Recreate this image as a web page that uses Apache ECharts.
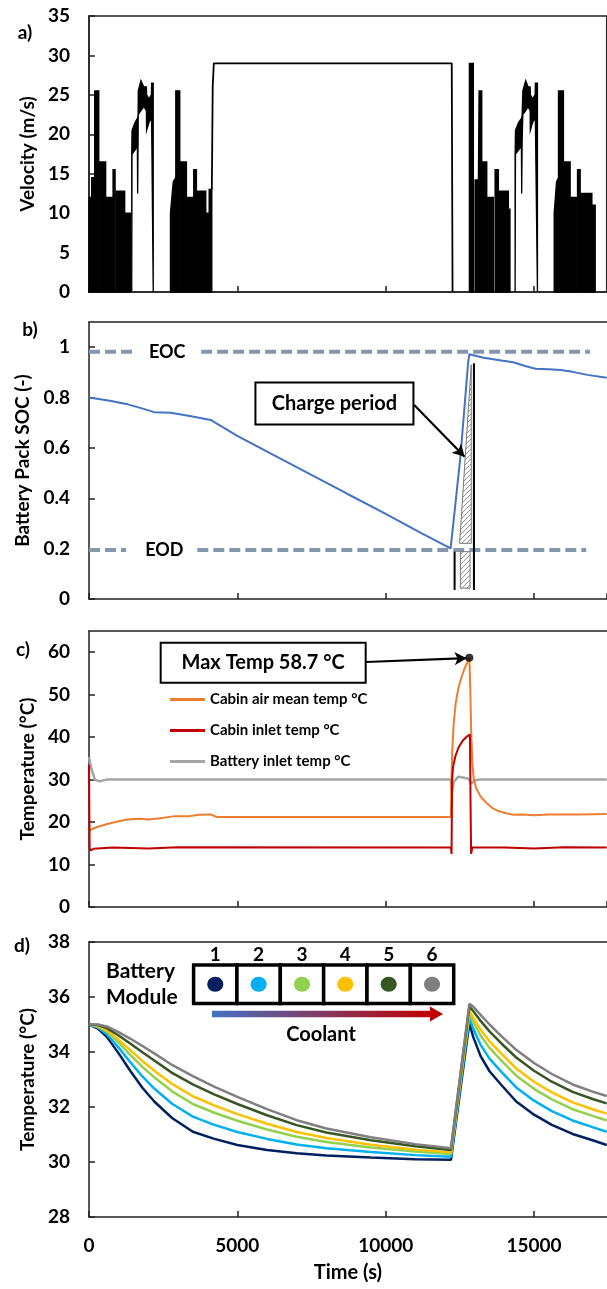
<!DOCTYPE html>
<html>
<head>
<meta charset="utf-8">
<title>Drive cycle, SOC and temperatures</title>
<script src="https://cdn.jsdelivr.net/npm/echarts@6/dist/echarts.min.js"></script>
<style>
html, body { margin: 0; padding: 0; background: #fff; }
#chart { width: 607px; height: 1289px; }
</style>
</head>
<body>
<div id="chart"></div>
<script>
// ---------------- data ----------------
var X_MAX = 17450;

// a) velocity: dense drive-cycle traces given as [t, low, high] envelopes
var velFill = [
  [[0,0,12],[45,0,12]],
  [[90,0,14.5],[191,0,14.5],[191,0,25.5],[330,0,25.5]],
  [[360,0,16.5],[562,0,16.5],[562,0,12],[810,0,12],[810,0,15.5],[880,0,15.5]],
  [[910,0,12.8],[1204,0,12.8],[1204,0,10],[1395,0,10]],
  [[1440,0,17.5],[1450,17.5,20.5],[1550,18,21.5],[1630,18.5,22],[1640,12.5,22],[1655,19,22.5],[1660,22.5,25.5],[1750,23,26.8],[1850,23.5,26],[1935,23,26],[1940,20.5,25],[2020,21.5,24.5],[2104,22,25],[2110,22,26.5],[2165,0,26.5]],
  [[2745,0,10],[2840,0,14],[2925,0,14.5],[2925,0,25.5],[3060,0,25.5]],
  [[3082,0,16.5],[3285,0,16.5],[3285,0,12],[3530,0,12],[3530,0,15.5],[3622,0,15.5],[3622,0,12.8],[3937,0,12.8],[3937,0,10],[4050,0,10],[4050,0,13],[4140,0,13]],
  [[12821,0,29],[12956,0,29]],
  [[13013,0,14.2],[13125,0,14.2],[13148,0,25.5],[13239,0,25.5],[13239,0,16.5],[13408,0,16.5],[13408,0,12],[13631,0,12]],
  [[13688,0,15.5],[13800,0,15.5],[13800,0,12.8],[14137,0,12.8],[14137,0,10.5],[14190,0,10.5]],
  [[14363,0,17.5],[14375,17.5,20.5],[14480,18,21.5],[14575,18.5,22],[14585,12.5,22],[14600,19,22.5],[14623,22.5,25.5],[14720,23,26.8],[14800,23.5,26],[14869,23,26],[14875,20.5,25],[14950,21.5,24.5],[15038,22,25],[15045,22,26.5],[15116,0,26.5]],
  [[15679,0,10],[15760,0,14],[15824,0,14.5],[15824,0,25.5],[15993,0,25.5],[15993,0,16.5],[16218,0,16.5],[16218,0,12],[16444,0,12]],
  [[16466,0,15.5],[16556,0,15.5],[16556,0,12.5],[16951,0,12.5],[16951,0,11],[17063,0,11]]
];
// constant-speed highway leg
var velHighway = [[4140,13],[4170,26],[4207,29],[12227,29],[12254,0]];

// b) battery pack state of charge
var soc = [[0,0.80],[700,0.787],[1300,0.773],[1700,0.760],[2200,0.742],[2750,0.740],[3400,0.727],[4100,0.711],
  [5000,0.648],[6100,0.579],[7400,0.499],[8700,0.418],[10000,0.338],[11200,0.262],[12190,0.201],
  [12520,0.565],[12780,0.94],[12820,0.972],[13300,0.958],[13900,0.947],[14300,0.94],[14700,0.925],
  [15050,0.914],[15500,0.912],[15900,0.909],[16300,0.902],[16800,0.89],[17450,0.879]];
var eocLine = [[0,0.982],[1565,0.982],[2600,null],[3780,0.982],[16890,0.982]];
var eodLine = [[0,0.195],[1250,0.195],[2500,null],[3650,0.195],[16760,0.195]];
var chargeHatch = [
  [[12884,0.93],[12884,0.221],[12492,0.221]],
  [[12518,0.188],[12844,0.188],[12844,0.043],[12518,0.043]]
];
var chargeBracket = [
  [[12323,0.188],[12323,0.036]],
  [[12975,0.936],[12975,0.036]]
];

// c) cabin / battery temperatures
var cabinAir = [[0,17.6],[50,18.2],[300,18.9],[650,19.6],[1000,20.2],[1300,20.6],[1700,20.8],[2000,20.6],[2400,20.9],
  [2900,21.4],[3400,21.4],[3700,21.7],[4100,21.8],[4300,21.2],[12200,21.2],[12215,29],[12240,36],[12290,43],
  [12360,48],[12450,51.5],[12550,54],[12650,56],[12750,57.6],[12820,58.7],[12850,52],[12880,42],[12920,34],
  [12970,30],[13050,28],[13200,26],[13400,24.5],[13600,23.3],[13800,22.6],[14000,22.2],[14300,21.7],
  [14600,21.8],[15000,21.6],[15500,21.8],[16000,21.8],[16500,21.8],[17450,21.9]];
var cabinInlet = [[0,33.5],[20,14],[60,13.3],[150,13.7],[800,14],[2000,13.8],[3000,14.1],[12200,14],[12220,12.5],
  [12240,30],[12270,33],[12350,35.5],[12450,37.5],[12600,39.2],[12750,40.2],[12840,40.6],[12860,25],[12880,12.5],
  [12920,14],[14000,14],[15000,13.8],[16000,14.1],[17450,14]];
var batteryInlet = [[0,35.3],[80,32.5],[200,30],[350,29.6],[600,30],[12190,30],[12230,27.2],[12300,29.5],[12450,30.7],
  [12600,30.5],[12800,30.2],[12880,29],[12920,28.7],[12990,29.8],[13150,30],[17450,30]];
var maxTemp = [12820, 58.7];

// d) battery module temperatures
var modT = [0,300,600,1000,1400,1800,2200,2800,3500,4200,5000,6000,7000,8000,9500,11000,12200,
  12820,12950,13200,13500,13900,14400,15000,15600,16300,17000,17450];
var mod1 = [35.0,34.85,34.55,33.95,33.3,32.7,32.2,31.6,31.1,30.85,30.62,30.44,30.32,30.24,30.16,30.10,30.08,
  35.05,34.55,33.85,33.3,32.8,32.2,31.72,31.35,31.02,30.78,30.62];
var mod2 = [35.0,34.89,34.65,34.16,33.62,33.11,32.67,32.12,31.65,31.36,31.09,30.84,30.64,30.5,30.36,30.25,30.19,
  35.24,34.85,34.26,33.76,33.28,32.71,32.23,31.85,31.51,31.26,31.1];
var mod3 = [35.0,34.93,34.74,34.34,33.89,33.46,33.08,32.57,32.11,31.8,31.5,31.18,30.92,30.73,30.53,30.38,30.29,
  35.4,35.1,34.6,34.15,33.69,33.14,32.66,32.28,31.92,31.67,31.51];
var mod4 = [35.0,34.95,34.79,34.44,34.06,33.67,33.32,32.84,32.39,32.07,31.74,31.39,31.09,30.87,30.63,30.45,30.35,
  35.5,35.25,34.81,34.39,33.94,33.4,32.92,32.53,32.17,31.91,31.76];
var mod5 = [35.0,34.98,34.87,34.6,34.3,33.99,33.69,33.24,32.82,32.47,32.11,31.7,31.34,31.07,30.79,30.57,30.44,
  35.65,35.49,35.13,34.75,34.31,33.8,33.32,32.92,32.55,32.28,32.13];
var mod6 = [35.0,35.0,34.93,34.72,34.48,34.22,33.95,33.53,33.12,32.75,32.37,31.92,31.52,31.22,30.9,30.65,30.5,
  35.75,35.65,35.35,35.0,34.58,34.08,33.6,33.2,32.82,32.55,32.4];
var modColors = ['#002060','#00B0F0','#92D050','#FFC000','#375623','#7F7F7F'];

// ---------------- chart ----------------
var FONT = 'Lato';
var AX = '#222';
var chart = echarts.init(document.getElementById('chart'));

function txt(size) {
  return {color: '#000', fontFamily: FONT, fontWeight: 'bold', fontSize: size};
}
function xAx(gi, last) {
  return {
    type: 'value', gridIndex: gi, min: 0, max: X_MAX, interval: 5000,
    axisLine: {lineStyle: {color: AX, width: 1.5}},
    axisTick: {inside: true, length: 6, lineStyle: {color: AX, width: 1.5}},
    axisLabel: Object.assign({show: last, margin: 19, showMaxLabel: false,
      formatter: function (v) { return String(v); }}, txt(19)),
    splitLine: {show: false},
    name: last ? 'Time (s)' : '', nameLocation: 'middle', nameGap: 46,
    nameTextStyle: txt(20)
  };
}
function topAx(gi) {
  return {type: 'value', gridIndex: gi, position: 'top', min: 0, max: X_MAX,
    axisLine: {lineStyle: {color: AX, width: 1.5}}, axisTick: {show: false},
    axisLabel: {show: false}, splitLine: {show: false}};
}
function yAx(gi, min, max, step, name, gap, showMax) {
  return {
    type: 'value', gridIndex: gi, min: min, max: max, interval: step,
    axisLine: {show: true, lineStyle: {color: AX, width: 1.5}},
    axisTick: {show: true, inside: true, length: 6, lineStyle: {color: AX, width: 1.5}},
    axisLabel: Object.assign({margin: 19, showMaxLabel: showMax}, txt(19)),
    splitLine: {show: false},
    name: name, nameLocation: 'middle', nameGap: gap, nameTextStyle: txt(19)
  };
}

// hatch pattern for the charge-period marker
var hatch = document.createElement('canvas');
hatch.width = 5; hatch.height = 5;
(function () {
  var c = hatch.getContext('2d');
  c.strokeStyle = '#777'; c.lineWidth = 0.8;
  c.beginPath(); c.moveTo(0, 5); c.lineTo(5, 0);
  c.moveTo(-1, 1); c.lineTo(1, -1); c.moveTo(4, 6); c.lineTo(6, 4); c.stroke();
})();

function lineS(name, data, x, color, width, extra) {
  return Object.assign({
    name: name, type: 'line', xAxisIndex: x, yAxisIndex: x, data: data,
    symbol: 'none', smooth: false, connectNulls: false,
    lineStyle: {color: color, width: width}, itemStyle: {color: color}, z: 3
  }, extra || {});
}

var series = [
  {
    type: 'custom', xAxisIndex: 0, yAxisIndex: 0,
    data: velFill.map(function (s) { return [s[0][0], s[0][2]]; }),
    renderItem: function (params, api) {
      var seg = velFill[params.dataIndex];
      var top = seg.map(function (p) { return api.coord([p[0], p[2]]); });
      var bot = seg.slice().reverse().map(function (p) { return api.coord([p[0], p[1]]); });
      return {type: 'polygon', shape: {points: top.concat(bot)},
        style: {fill: '#000', stroke: '#000', lineWidth: 1.3}};
    }
  },
  lineS('Highway', velHighway, 0, '#000', 1.8),

  lineS('SOC', soc, 1, '#4472C4', 2, {z: 4}),
  lineS('EOC', eocLine, 1, '#8497B0', 4, {lineStyle: {color: '#8497B0', width: 4, type: [11, 5]}}),
  lineS('EOD', eodLine, 1, '#8497B0', 4, {lineStyle: {color: '#8497B0', width: 4, type: [11, 5]}}),
  {
    type: 'custom', xAxisIndex: 1, yAxisIndex: 1, z: 5,
    data: chargeHatch.map(function (s) { return s[0]; }),
    renderItem: function (params, api) {
      var pts = chargeHatch[params.dataIndex].map(function (p) { return api.coord(p); });
      return {type: 'polygon', shape: {points: pts},
        style: {fill: {image: hatch, repeat: 'repeat'}, stroke: '#777', lineWidth: 1}};
    }
  },
  {
    type: 'custom', xAxisIndex: 1, yAxisIndex: 1, z: 5,
    data: chargeBracket.map(function (s) { return s[0]; }),
    renderItem: function (params, api) {
      var s = chargeBracket[params.dataIndex];
      var a = api.coord(s[0]), b = api.coord(s[1]);
      return {type: 'line', shape: {x1: a[0], y1: a[1], x2: b[0], y2: b[1]},
        style: {stroke: '#000', lineWidth: 2}};
    }
  },

  lineS('Battery inlet temp °C', batteryInlet, 2, '#A5A5A5', 2.5),
  lineS('Cabin air mean temp °C', cabinAir, 2, '#ED7D31', 2),
  lineS('Cabin inlet temp °C', cabinInlet, 2, '#C00000', 2),
  {
    type: 'scatter', xAxisIndex: 2, yAxisIndex: 2, data: [maxTemp], symbolSize: 8,
    itemStyle: {color: '#000'}, z: 6,
    markLine: {
      silent: true, symbol: ['none', 'arrow'], symbolSize: [10, 12],
      label: {show: false}, lineStyle: {color: '#000', width: 2.2, type: 'solid'},
      data: [[{coord: [9333, 57.7]}, {coord: [12727, 58.6]}]]
    }
  },
  {
    type: 'scatter', xAxisIndex: 1, yAxisIndex: 1, data: [], z: 6,
    markLine: {
      silent: true, symbol: ['none', 'arrow'], symbolSize: [10, 12],
      label: {show: false}, lineStyle: {color: '#000', width: 2.2, type: 'solid'},
      data: [[{coord: [10962, 0.770]}, {coord: [12663, 0.565]}]]
    }
  }
];

var mods = [mod1, mod2, mod3, mod4, mod5, mod6];
mods.forEach(function (m, i) {
  series.push(lineS('Module ' + (i + 1), modT.map(function (t, k) { return [t, m[k]]; }), 3, modColors[i], 2.5));
});

var option = {
  animation: false,
  backgroundColor: '#fff',
  textStyle: {fontFamily: FONT},
  grid: [
    {left: 89, top: 16, width: 517.7, height: 276, show: true, borderColor: AX, borderWidth: 1.5},
    {left: 89, top: 322, width: 517.7, height: 277},
    {left: 89, top: 631, width: 517.7, height: 276},
    {left: 89, top: 942, width: 517.7, height: 275}
  ],
  xAxis: [xAx(0, false), xAx(1, false), xAx(2, false), xAx(3, true), topAx(1), topAx(2), topAx(3)],
  yAxis: [
    yAx(0, 0, 35, 5, 'Velocity (m/s)', 42, true),
    yAx(1, 0, 1.1, 0.2, 'Battery Pack SOC (-)', 57, false),
    yAx(2, 0, 65, 10, 'Temperature (°C)', 50, false),
    yAx(3, 28, 38, 2, 'Temperature (°C)', 50, true)
  ],
  legend: {
    left: 165, top: 687, orient: 'vertical', itemWidth: 35, itemHeight: 3, itemGap: 16,
    icon: 'rect', selectedMode: false, textStyle: txt(15),
    data: ['Cabin air mean temp °C', 'Cabin inlet temp °C', 'Battery inlet temp °C']
  },
  series: series
};
chart.setOption(option);

// ---------------- annotations ----------------
var chargeLabelAt = [8273, 0.776];
var maxLabelAt = [5871, 57.5];
var eocLabelAt = [2638, 0.982];
var eodLabelAt = [2540, 0.195];

function textEl(x, y, s, size, align) {
  return {type: 'text', z: 100, style: {x: x, y: y, text: s, align: align || 'center', verticalAlign: 'middle',
    fill: '#000', fontFamily: FONT, fontWeight: 'bold', fontSize: size}};
}
function boxEl(cx, cy, w, h, s, size) {
  return {type: 'group', z: 100, children: [
    {type: 'rect', shape: {x: cx - w / 2, y: cy - h / 2, width: w, height: h},
      style: {fill: '#fff', stroke: '#000', lineWidth: 2}},
    textEl(cx, cy, s, size)
  ]};
}

var cp = chart.convertToPixel({gridIndex: 1}, chargeLabelAt);
var mp = chart.convertToPixel({gridIndex: 2}, maxLabelAt);
var ep = chart.convertToPixel({gridIndex: 1}, eocLabelAt);
var dp = chart.convertToPixel({gridIndex: 1}, eodLabelAt);

var g = [
  textEl(25, 33, 'a)', 19), textEl(30, 330, 'b)', 19), textEl(23, 650, 'c)', 19), textEl(22, 946, 'd)', 19),
  boxEl(cp[0], cp[1], 158, 42, 'Charge period', 20),
  boxEl(mp[0], mp[1], 205, 40, 'Max Temp 58.7 °C', 20),
  textEl(ep[0], ep[1], 'EOC', 18),
  textEl(dp[0], dp[1], 'EOD', 18),
  textEl(106, 971, 'Battery', 21, 'left'),
  textEl(106, 997, 'Module', 21, 'left'),
  textEl(321, 1035, 'Coolant', 20)
];
var cellX = 193.6, cellY = 965, cellW = 43.35, cellH = 38.5;
for (var i = 0; i < 6; i++) {
  var cx = cellX + cellW * (i + 0.5);
  g.push({type: 'rect', z: 100, shape: {x: cellX + cellW * i, y: cellY, width: cellW, height: cellH},
    style: {fill: '#fff', stroke: '#000', lineWidth: 3.5}});
  g.push({type: 'ellipse', z: 101, shape: {cx: cx, cy: cellY + cellH / 2, rx: 8, ry: 7.5},
    style: {fill: modColors[i]}});
  g.push(textEl(cx, 955, String(i + 1), 19));
}
g.push({type: 'rect', z: 100, shape: {x: 212, y: 1010.7, width: 220, height: 6.6},
  style: {fill: new echarts.graphic.LinearGradient(0, 0, 1, 0, [
    {offset: 0, color: '#4472C4'}, {offset: 1, color: '#C00000'}])}});
g.push({type: 'polygon', z: 100, shape: {points: [[430, 1006.5], [443, 1014], [430, 1021.5]]},
  style: {fill: '#C00000'}});

chart.setOption({graphic: g});
</script>
</body>
</html>
